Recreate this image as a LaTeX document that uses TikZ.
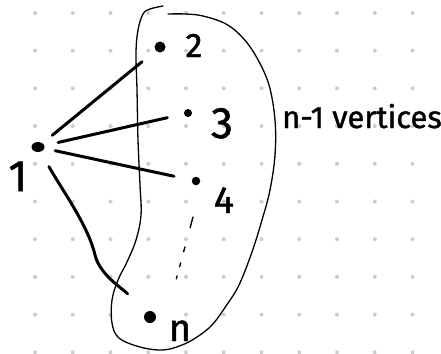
\documentclass[tikz,border=0pt]{standalone}
\usepackage{fontspec}
\setmainfont{Fira Sans}
\newfontfamily\handfont{Fira Sans}[FakeBold=1.2]
\usetikzlibrary{shapes.geometric}
\begin{document}
\begin{tikzpicture}[x=1pt,y=-1pt,
  griddot/.style={fill=gray!40,draw=none},
  vertex/.style={circle,fill=black,draw=none,inner sep=0pt},
  edge/.style={line width=3pt,line cap=round,line join=round},
  blob/.style={line width=1.3pt,line join=round,line cap=round},
  dotline/.style={line width=1.4pt,line cap=round,dash pattern=on 11pt off 20pt on 5pt off 11.5pt on 4pt off 9.5pt on 3pt off 20pt},
  lbl/.style={inner sep=0pt,anchor=base},
]
\useasboundingbox (0,0) rectangle (441,353);
\fill[white] (0,0) rectangle (441,353);
\foreach \i in {-1,...,11}{
  \foreach \j in {0,...,9}{
    \fill[griddot] ({35+37.75*\i},{13+37.7*\j}) circle[radius=2];
  }
}
% the set of n-1 vertices
\draw[blob] plot[smooth,tension=0.6] coordinates {
  (163,6) (150,9) (143,14) (138,30) (136,53) (137,90) (138,140) (140,185)
  (141,215) (136,240) (127,262) (118,280) (112,300) (112,323) (119,338)
  (140,347) (163,350) (182,345) (197,337) (212,325) (226,306) (239,285)
  (252,252) (262,220) (270,190) (275,155) (275,120) (269,85) (257,58)
  (243,38) (226,24) (203,16) (185,14) (168,14)};
% vertices
\node[vertex,ellipse,minimum width=13pt,minimum height=10pt] (v1) at (38,147) {};
\node[vertex,minimum size=11pt] (v2) at (160,47) {};
\node[vertex,minimum size=8pt] (v3) at (188,113) {};
\node[vertex,minimum size=8.5pt] (v4) at (196,181) {};
\node[vertex,minimum size=12pt] (vn) at (150,317) {};
% labels
\node[lbl,font=\handfont\fontsize{44}{44}\selectfont] (l1) at (18,191) {1};
\node[lbl,font=\handfont\fontsize{34}{34}\selectfont] (l2) at (194,57) {2};
\node[lbl,font=\handfont\fontsize{44}{44}\selectfont] (l3) at (222,138) {3};
\node[lbl,font=\handfont\fontsize{38}{38}\selectfont] (l4) at (224,213) {4};
\node[lbl,font=\handfont\fontsize{38}{38}\selectfont] (ln) at (180,341) {n};
\node[inner sep=0pt,anchor=base west,font=\handfont\fontsize{31}{31}\selectfont] (nv) at (282,128) {n-1 vertices};
% edges
\draw[edge,shorten <=12.5pt,shorten >=17.5pt] (v1) -- (v2);
\draw[edge,shorten <=14pt,shorten >=17pt] (v1) -- (v3);
\draw[edge,shorten <=11pt,shorten >=18pt] (v1) -- (v4);
\draw[edge,shorten <=17pt,shorten >=26pt] (v1) .. controls (62,190) and (88,225) .. (95,255)
  .. controls (100,275) and (122,288) .. (vn);
% dotted continuation
\coordinate (d1) at (193,217);
\coordinate (d2) at (176,280);
\draw[dotline] (d1) -- (d2);
\end{tikzpicture}
\end{document}
